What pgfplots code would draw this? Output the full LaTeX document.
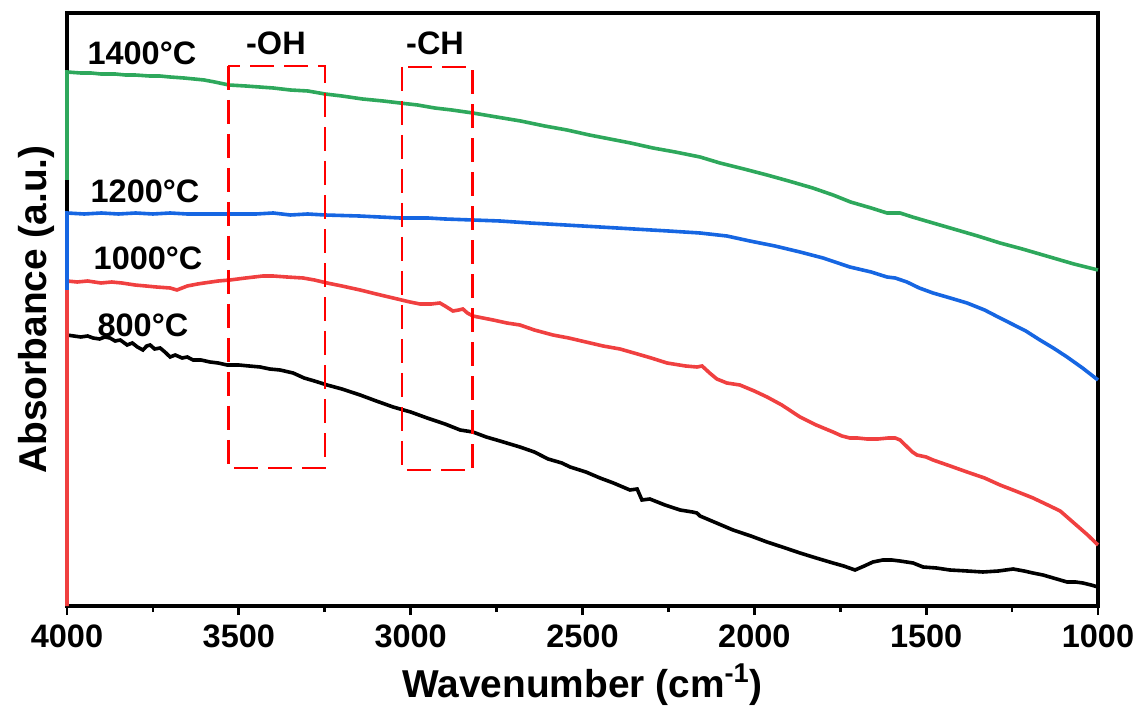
\documentclass[border=0pt]{standalone}
\usepackage{fontspec}
\setmainfont{Liberation Sans}
\usepackage{pgfplots}
\pgfplotsset{compat=1.18}
\definecolor{cgreen}{RGB}{46,168,92}
\definecolor{cblue}{RGB}{22,102,226}
\definecolor{cred}{RGB}{240,64,64}
\newcommand{\lblfont}{\fontsize{16.3}{19}\selectfont\bfseries}
\newcommand{\axfont}{\fontsize{19.5}{23}\selectfont\bfseries}
\begin{document}
\begin{tikzpicture}
\begin{axis}[
  scale only axis, width=515.5bp, height=296.5bp,
  xmin=1000, xmax=4000, x dir=reverse,
  ymin=-606, ymax=-13,
  y filter/.expression={-y},
  xtick={1000,1500,2000,2500,3000,3500,4000},
  minor xtick={1250,1750,2250,2750,3250,3750},
  ytick=\empty,
  xtick pos=left, tick align=outside,
  major tick length=4.5bp, minor tick length=3bp,
  every tick/.style={black, line width=1.4bp},
  axis line style={line width=1.6bp},
  /pgf/number format/assume math mode=true,
  /pgf/number format/1000 sep={},
  ticklabel style={font=\lblfont},
  xticklabel style={yshift=-1.6bp},
  xlabel={Wavenumber (cm\textsuperscript{-1})},
  xlabel style={at={(axis description cs:0.5,-0.1535)}, anchor=base, font=\axfont},
  ylabel={Absorbance (a.u.)},
  ylabel style={at={(axis description cs:-0.0194,0.5)}, anchor=base, font=\axfont},
  clip=false,
]
% 800 C
\addplot[black, line width=1.8bp] coordinates {
(4000,606)(4000,335)(3980,336)(3960,337)(3940,336)(3924,338)(3905,339)(3890,337)(3875,338)(3860,341)
(3845,340)(3825,345)(3810,343)(3795,347)(3779,350)(3768,346)(3758,345)(3745,349)(3729,348)(3715,352)
(3700,357)(3685,355)(3665,358)(3650,357)(3633,360)(3610,360)(3584,362)(3560,363)(3534,365)(3500,365)
(3470,366)(3438,367)(3410,369)(3380,370)(3342,373)(3310,378)(3280,381)(3243,385)(3200,389)(3147,395)
(3100,401)(3051,407)(3000,412)(2952,418)(2900,424)(2856,430)(2819,432)(2780,437)(2740,441)(2682,447)
(2640,452)(2600,459)(2560,463)(2536,467)(2490,472)(2449,478)(2410,483)(2362,490)(2341,489)(2327,500)
(2304,499)(2260,505)(2216,510)(2180,512)(2167,513)(2158,516)(2110,523)(2062,530)(2010,536)(1963,542)
(1910,548)(1867,553)(1820,558)(1771,563)(1740,566)(1707,570)(1680,566)(1655,562)(1626,560)(1600,560)
(1576,561)(1538,563)(1509,567)(1470,568)(1431,570)(1380,571)(1335,572)(1290,571)(1247,569)(1215,571)
(1189,573)(1160,575)(1140,577)(1110,580)(1090,582)(1065,582)(1044,583)(1020,585)(1000,587)
};
% 1000 C
\addplot[cred, line width=1.8bp] coordinates {
(4000,606)(4000,281)(3970,282)(3940,281)(3901,283)(3870,282)(3840,283)(3802,285)(3770,286)(3740,287)
(3700,288)(3680,290)(3650,286)(3620,284)(3601,283)(3560,281)(3526,280)(3480,278)(3430,276)(3400,276)
(3360,277)(3313,278)(3280,280)(3243,283)(3200,286)(3147,290)(3100,294)(3051,298)(3002,302)(2973,304)
(2940,304)(2915,303)(2900,306)(2877,311)(2860,310)(2848,309)(2835,313)(2819,316)(2760,320)(2720,323)
(2682,325)(2640,330)(2586,335)(2540,338)(2490,342)(2440,346)(2391,349)(2340,354)(2300,358)(2254,363)
(2200,366)(2167,367)(2152,366)(2130,373)(2109,379)(2080,383)(2042,385)(2000,391)(1963,397)(1920,405)
(1867,417)(1820,425)(1771,432)(1745,436)(1722,438)(1700,438)(1672,439)(1640,439)(1610,438)(1590,438)
(1576,440)(1555,447)(1540,452)(1527,455)(1500,457)(1480,460)(1430,466)(1381,472)(1330,478)(1285,485)
(1240,491)(1189,498)(1140,506)(1110,511)(1090,517)(1060,526)(1030,535)(1000,545)
};
% 1200 C
\addplot[cblue, line width=1.8bp] coordinates {
(4000,290)(4000,213)(3950,214)(3900,213)(3850,214)(3800,213)(3750,214)(3700,213)(3650,214)(3600,214)
(3529,214)(3450,214)(3400,213)(3350,215)(3300,214)(3249,215)(3150,216)(3031,218)(2950,218)(2900,219)
(2819,220)(2740,221)(2653,223)(2550,225)(2449,227)(2350,229)(2250,231)(2158,233)(2080,236)(2013,241)
(1940,246)(1867,252)(1800,258)(1722,267)(1660,272)(1614,277)(1590,278)(1556,282)(1520,288)(1480,293)
(1430,298)(1381,303)(1330,310)(1285,318)(1256,323)(1210,331)(1169,340)(1130,348)(1090,357)(1045,368)
(1000,380)
};
% 1400 C
\addplot[cgreen, line width=1.8bp] coordinates {
(4000,180)(4000,72)(3960,73)(3930,73)(3901,74)(3860,74)(3830,75)(3802,75)(3760,76)(3730,76)(3700,77)
(3660,78)(3630,79)(3601,80)(3570,82)(3529,85)(3480,86)(3440,87)(3400,88)(3350,90)(3299,91)(3249,94)
(3200,96)(3140,99)(3080,101)(3031,103)(2980,105)(2930,108)(2880,110)(2819,113)(2750,117)(2680,121)
(2610,126)(2545,130)(2480,135)(2420,139)(2360,143)(2295,148)(2230,152)(2158,157)(2100,163)(2030,169)
(1963,175)(1900,181)(1830,188)(1771,195)(1720,202)(1660,208)(1614,213)(1576,213)(1540,217)(1480,223)
(1420,229)(1350,236)(1285,243)(1220,249)(1180,253)(1140,257)(1070,264)(1000,270)
};
% dashed boxes
\draw[red, line width=1.4bp, dash pattern=on 12bp off 5bp] (axis cs:3531,-66) rectangle (axis cs:3249,-468);
\draw[red, line width=1.4bp, dash pattern=on 12bp off 5bp] (axis cs:3025,-67) rectangle (axis cs:2819,-470);
% labels
\node[font=\lblfont] at (axis cs:3392,-43) {-OH};
\node[font=\lblfont] at (axis cs:2929,-43) {-CH};
\node[font=\lblfont] at (axis cs:3782,-53) {1400°C};
\node[font=\lblfont] at (axis cs:3773,-191) {1200°C};
\node[font=\lblfont] at (axis cs:3764,-258) {1000°C};
\node[font=\lblfont] at (axis cs:3779,-325) {800°C};
\end{axis}
\pgfresetboundingbox
\path ([xshift=-33.5bp,yshift=-50bp]current axis.south west) rectangle ([xshift=21bp,yshift=6.5bp]current axis.north east);
\end{tikzpicture}
\end{document}
